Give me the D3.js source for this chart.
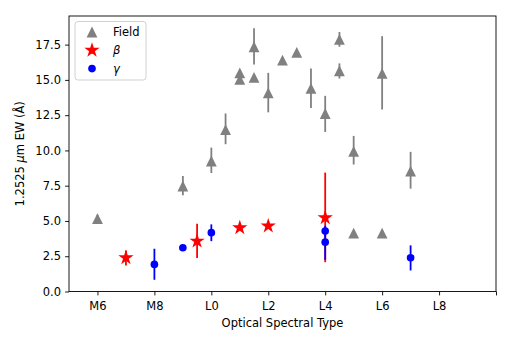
<!DOCTYPE html>
<html>
<head>
<meta charset="utf-8">
<script src="https://cdn.jsdelivr.net/npm/d3@7"></script>
<style>
  body { margin: 0; background: #fff; }
  svg { font-family: "DejaVu Sans", sans-serif; }
</style>
</head>
<body>
<svg id="chart" width="512" height="342"></svg>
<script>
// spectral type: M0 = 0, L0 = 10
const fieldSpt = [6, 9, 10, 10.5, 11, 11, 11.5, 11.5, 12, 12.5, 13, 13.5, 14, 14.5, 14.5, 15, 15, 16, 16, 17]
const fieldEw  = [5.16, 7.48, 9.25, 11.48, 15.5, 15.04, 17.35, 15.18, 14.08, 16.4, 16.95, 14.4, 12.62, 17.87, 15.65, 9.94, 4.14, 15.46, 4.14, 8.54]
const fieldLo  = [4.85, 6.82, 8.4, 10.44, 15.3, 14.85, 16.1, 15.0, 12.7, 16.3, 16.85, 13.0, 11.31, 17.35, 15.1, 9.0, 4.1, 12.9, 4.1, 7.29]
const fieldHi  = [5.45, 8.19, 10.2, 12.62, 15.7, 15.25, 18.66, 15.4, 15.5, 16.5, 17.05, 15.8, 13.87, 18.4, 16.17, 11.03, 4.2, 18.1, 4.2, 9.9]

const betaSpt = [7, 9.5, 11, 12, 14]
const betaEw  = [2.39, 3.57, 4.52, 4.64, 5.23]
const betaLo  = [1.85, 2.37, 4.35, 4.5, 2.08]
const betaHi  = [2.91, 4.81, 4.7, 4.8, 8.43]

const gammaSpt = [8, 9, 10, 14, 14, 17]
const gammaEw  = [1.92, 3.1, 4.17, 4.28, 3.5, 2.39]
const gammaLo  = [0.83, 3.0, 3.57, 3.9, 2.25, 1.49]
const gammaHi  = [3.03, 3.2, 4.76, 4.65, 4.6, 3.27]

const xTicks = [6, 8, 10, 12, 14, 16, 18, 20]
const xTickLabels = ['M6', 'M8', 'L0', 'L2', 'L4', 'L6', 'L8', '']
const yTicks = [0, 2.5, 5, 7.5, 10, 12.5, 15, 17.5]

const svg = d3.select('#chart')
const margin = {left: 69, right: 16, top: 16, bottom: 50.5}
const width = 512 - margin.left - margin.right
const height = 342 - margin.top - margin.bottom
const fontSize = 11.5

const xScale = d3.scaleLinear().domain([5, 20]).range([margin.left, margin.left + width])
const yScale = d3.scaleLinear().domain([0, 19.53]).range([margin.top + height, margin.top])

const toRows = (spt, ew, lo, hi) => spt.map((s, i) => ({s: s, ew: ew[i], lo: lo[i], hi: hi[i]}))

const triangle = (r) => `M0,${-r}L${r},${r}L${-r},${r}Z`
const star = d3.symbol().type(d3.symbolStar).size(72)
const dot = d3.symbol().type(d3.symbolCircle).size(46)

const series = [
    {rows: toRows(fieldSpt, fieldEw, fieldLo, fieldHi), color: 'gray', path: triangle(5.4)},
    {rows: toRows(betaSpt, betaEw, betaLo, betaHi), color: 'red', path: star()},
    {rows: toRows(gammaSpt, gammaEw, gammaLo, gammaHi), color: 'blue', path: dot()}
]

const plot = svg.append('g')
series.forEach(sr => {
    const g = plot.append('g')
    g.selectAll('line')
        .data(sr.rows)
        .enter().append('line')
            .attr('x1', d => xScale(d.s))
            .attr('x2', d => xScale(d.s))
            .attr('y1', d => yScale(d.lo))
            .attr('y2', d => yScale(d.hi))
            .attr('stroke', sr.color)
            .attr('stroke-width', 1.8)
    g.selectAll('path')
        .data(sr.rows)
        .enter().append('path')
            .attr('d', sr.path)
            .attr('transform', d => `translate(${xScale(d.s)},${yScale(d.ew)})`)
            .attr('fill', sr.color)
})

// axes
const xAxis = d3.axisBottom(xScale).tickValues(xTicks).tickFormat((d, i) => xTickLabels[i]).tickSize(3.9).tickSizeOuter(0)
const yAxis = d3.axisLeft(yScale).tickValues(yTicks).tickFormat(d3.format('.1f')).tickSize(3.9).tickSizeOuter(0)

const gx = svg.append('g').attr('transform', `translate(0,${margin.top + height})`).call(xAxis)
const gy = svg.append('g').attr('transform', `translate(${margin.left},0)`).call(yAxis)
;[gx, gy].forEach(g => {
    g.select('.domain').remove()
    g.selectAll('.tick line').attr('stroke', '#000').attr('stroke-width', 0.9)
    g.selectAll('.tick text').attr('font-size', fontSize).attr('fill', '#000').attr('font-family', '"DejaVu Sans", sans-serif')
})
gx.selectAll('.tick text').attr('dy', '1.0em')
gy.selectAll('.tick text').attr('dx', '-0.1em')

svg.append('rect')
    .attr('x', margin.left).attr('y', margin.top)
    .attr('width', width).attr('height', height)
    .attr('fill', 'none').attr('stroke', '#000').attr('stroke-width', 0.9)

// axis labels
svg.append('text')
    .attr('x', margin.left + width / 2).attr('y', 326.5)
    .attr('text-anchor', 'middle').attr('font-size', fontSize)
    .text('Optical Spectral Type')

const ylab = svg.append('text')
    .attr('transform', `translate(24,${margin.top + height / 2}) rotate(-90)`)
    .attr('text-anchor', 'middle').attr('font-size', fontSize)
ylab.append('tspan').text('1.2525 ')
ylab.append('tspan').attr('font-style', 'italic').text('μ')
ylab.append('tspan').text('m EW (')
ylab.append('tspan').text('Å')
ylab.append('tspan').text(')')

// legend
const legendLabels = ['Field', 'β', 'γ']
const lg = svg.append('g')
lg.append('rect')
    .attr('x', 75).attr('y', 21.5).attr('width', 71).attr('height', 58.5)
    .attr('rx', 3).attr('fill', '#fff').attr('fill-opacity', 0.8)
    .attr('stroke', '#ccc').attr('stroke-width', 0.9)
series.forEach((sr, i) => {
    const cy = 32 + i * 18.3
    if (i > 0) {
        lg.append('line').attr('x1', 92).attr('x2', 92)
            .attr('y1', cy - 3.5).attr('y2', cy + 3.5)
            .attr('stroke', sr.color).attr('stroke-width', 1.8)
    }
    lg.append('path').attr('d', sr.path)
        .attr('transform', `translate(92,${cy})`).attr('fill', sr.color)
    lg.append('text').attr('x', 113).attr('y', cy + 4)
        .attr('font-size', fontSize)
        .attr('font-style', i > 0 ? 'italic' : 'normal')
        .text(legendLabels[i])
})
</script>
</body>
</html>
